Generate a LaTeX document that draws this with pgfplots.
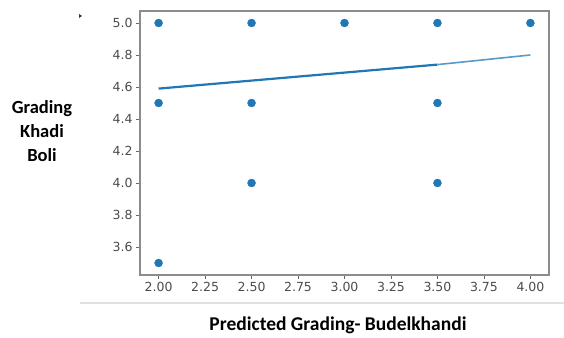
\documentclass[border=0pt]{standalone}
\usepackage{pgfplots}
\pgfplotsset{compat=1.18}
\usepackage{fontspec}
\setmainfont{Carlito}
\newfontfamily\tickfont{DejaVu Sans}
\definecolor{mplblue}{HTML}{1F77B4}
\begin{document}
\begin{tikzpicture}[x=1pt,y=1pt]
\useasboundingbox (0,0) rectangle (564,337);
% thin rule under the tick labels
\draw[line width=1.5pt, black!12] (80,34) -- (564,34);
\fill[black!80] (79,319) -- (82,321) -- (79,323) -- cycle;
\begin{axis}[
  at={(140pt,62pt)}, anchor=south west,
  scale only axis, width=409pt, height=264pt,
  xmin=1.9, xmax=4.1, ymin=3.425, ymax=5.075,
  xtick={2,2.25,...,4.01}, ytick={3.6,3.8,...,5.01},
  axis line style={black!45, line width=1.2pt},
  tick style={black!60, line width=0.8pt},
  tick align=outside, major tick length=4pt,
  xtick pos=bottom, ytick pos=left,
  ticklabel style={font=\tickfont\fontsize{12.5}{14}\selectfont, text=black!70},
  /pgf/number format/assume math mode=true,
  x tick label style={/pgf/number format/.cd, fixed, fixed zerofill, precision=2},
  y tick label style={/pgf/number format/.cd, fixed, fixed zerofill, precision=1},
  clip=false,
]
\addplot[only marks, mark=*, mark size=4pt, mplblue, mark options={draw=mplblue, fill=mplblue}] coordinates {
  (2,5) (2.5,5) (3,5) (3.5,5) (4,5)
  (2,4.5) (2.5,4.5) (3.5,4.5)
  (2.5,4) (3.5,4)
  (2,3.5)
};
% fitted line: overlapping segments over the data range appear darker
\addplot[mplblue, line width=2.2pt] coordinates {(2,4.59) (3.5,4.74)};
\addplot[mplblue!75, line width=1.6pt] coordinates {(3.5,4.74) (4,4.8)};
\end{axis}
\node[font=\bfseries\fontsize{18.5}{24}\selectfont, align=center] at (42,206) {Grading\\Khadi\\Boli};
\node[font=\bfseries\fontsize{19.5}{22}\selectfont] at (338,12) {Predicted Grading- Budelkhandi};
\end{tikzpicture}
\end{document}
